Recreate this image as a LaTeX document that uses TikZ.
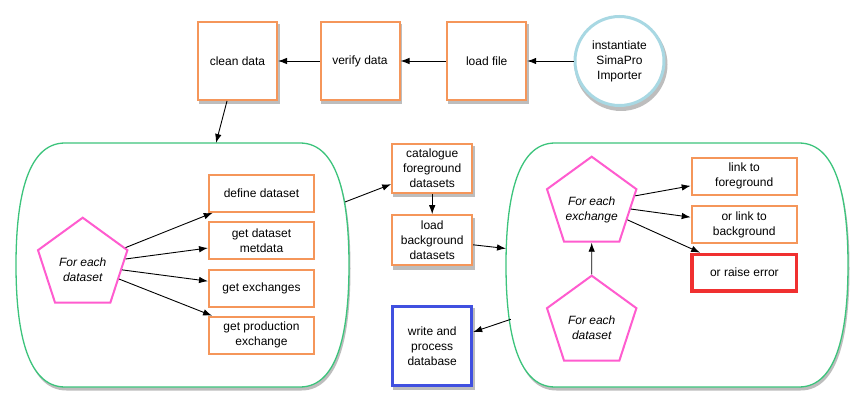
\documentclass[tikz,border=0pt]{standalone}
\usepackage{fontspec}
\setmainfont{Liberation Sans}
\usetikzlibrary{arrows.meta,shapes.geometric,backgrounds}
\definecolor{boxorange}{HTML}{F5965A}
\definecolor{contgreen}{HTML}{3CC47C}
\definecolor{penpink}{HTML}{FF5CCF}
\definecolor{circblue}{HTML}{A8D8E3}
\definecolor{dbblue}{HTML}{4050E0}
\definecolor{errred}{HTML}{F03030}
\definecolor{shadowgray}{HTML}{BDBDBD}
\newcommand{\pentext}[2]{\raisebox{-9pt}[10pt][10pt]{\begin{tabular}{@{}c@{}}#1\\#2\end{tabular}}}
\begin{document}
\begin{tikzpicture}[x=1pt,y=-1pt,
  font=\fontsize{12}{15}\selectfont,
  box/.style={draw=boxorange,line width=2pt,fill=white,align=center,inner sep=2pt},
  bigbox/.style={box,minimum width=79pt,minimum height=78pt},
  midbox/.style={box,minimum width=80pt},
  inbox/.style={box,minimum width=105pt,minimum height=37pt},
  pent/.style={regular polygon,regular polygon sides=5,minimum size=94pt,inner sep=0pt,
    draw=penpink,line width=2pt,fill=white,font=\fontsize{12}{15}\selectfont\itshape},
  container/.style={draw=contgreen,line width=1.3pt,fill=white},
  shadowfill/.style={fill=shadowgray},
  arr/.style={-{Latex[length=9pt,width=6.5pt]},line width=0.9pt,black}]
\useasboundingbox (0,0) rectangle (855,409);

% containers
\draw[container] (65,143) -- (300,143) .. controls (340,143) and (349,205) .. (349,265)
  .. controls (349,325) and (340,387) .. (300,387) -- (65,387)
  .. controls (25,387) and (16,325) .. (16,265) .. controls (16,205) and (25,143) .. (65,143) -- cycle;
\draw[container] (555,143) -- (799,143) .. controls (839,143) and (848,205) .. (848,265)
  .. controls (848,325) and (839,387) .. (799,387) -- (555,387)
  .. controls (515,387) and (506,325) .. (506,265) .. controls (506,205) and (515,143) .. (555,143) -- cycle;
\coordinate (Ltop) at (216,143);
\coordinate (Lright) at (345,202);
\coordinate (Rin) at (506,248.5);
\coordinate (Rout) at (510.8,319.3);

% top row
\node[circle,draw=circblue,line width=3pt,fill=white,minimum size=89pt,inner sep=0pt,align=center]
  (start) at (619.5,61) {instantiate\\SimaPro\\Importer};
\node[bigbox] (load) at (486.7,61) {load file};
\node[bigbox] (verify) at (360,61) {verify data};
\node[bigbox] (clean) at (237.5,61) {clean data};

% left container content
\node[pent] (p1) at (82.7,264.7) {\pentext{For each}{dataset}};
\node[inbox] (define) at (261.5,193.3) {define dataset};
\node[inbox] (meta) at (261.5,240.9) {get dataset\\metdata};
\node[inbox] (exch) at (261.5,288.2) {get exchanges};
\node[inbox] (prod) at (261.5,335.2) {get production\\exchange};

% middle
\node[midbox,minimum height=49pt] (cat) at (432.2,168.4) {catalogue\\foreground\\datasets};
\node[midbox,minimum height=50pt] (bg) at (432.2,240.2) {load\\background\\datasets};
\node[box,draw=dbblue,line width=3pt,minimum width=79pt,minimum height=79pt] (db) at (432.2,345.8) {write and\\process\\database};

% right container content
\node[pent] (p3) at (591.7,322.7) {\pentext{For each}{dataset}};
\node[pent] (p2) at (591.7,203.7) {\pentext{For each}{exchange}};
\node[inbox] (fg) at (744.2,176.2) {link to\\foreground};
\node[inbox] (bgl) at (744.2,224.5) {or link to\\background};
\node[box,draw=errred,line width=3.5pt,minimum width=104.5pt,minimum height=36.5pt] (err) at (744.4,272.7) {or raise error};

% connectors
\draw[arr] (start) -- (load);
\draw[arr] (load) -- (verify);
\draw[arr] (verify) -- (clean);
\draw[arr] (clean) -- (Ltop);
\draw[arr] (p1) -- (define);
\draw[arr] (p1) -- (meta);
\draw[arr] (p1) -- (exch);
\draw[arr] (p1) -- (prod);
\draw[arr] (Lright) -- (cat);
\draw[arr] (cat) -- (bg);
\draw[arr] (bg) -- (Rin);
\draw[arr] (Rout) -- (db);
\draw[arr] (p3) -- (p2);
\draw[arr] (p2) -- (fg);
\draw[arr] (p2) -- (bgl);
\draw[arr] (p2) -- (err);

% background and shadows
\begin{scope}[on background layer]
\fill[white] (0,0) rectangle (855,409);
\begin{scope}[shift={(1.5,3.5)}]
\fill[shadowfill] (65,143) -- (300,143) .. controls (340,143) and (349,205) .. (349,265)
  .. controls (349,325) and (340,387) .. (300,387) -- (65,387)
  .. controls (25,387) and (16,325) .. (16,265) .. controls (16,205) and (25,143) .. (65,143) -- cycle;
\fill[shadowfill] (555,143) -- (799,143) .. controls (839,143) and (848,205) .. (848,265)
  .. controls (848,325) and (839,387) .. (799,387) -- (555,387)
  .. controls (515,387) and (506,325) .. (506,265) .. controls (506,205) and (515,143) .. (555,143) -- cycle;
\end{scope}
\foreach \n in {clean,verify,load,cat,bg,db}{
  \fill[shadowfill] ([shift={(1.5,3.5)}]\n.north west) rectangle ([shift={(1.5,3.5)}]\n.south east);
}
\fill[shadowfill] ([shift={(1.5,3.5)}]start.center) circle[radius=46.5pt];
\end{scope}
\end{tikzpicture}
\end{document}
